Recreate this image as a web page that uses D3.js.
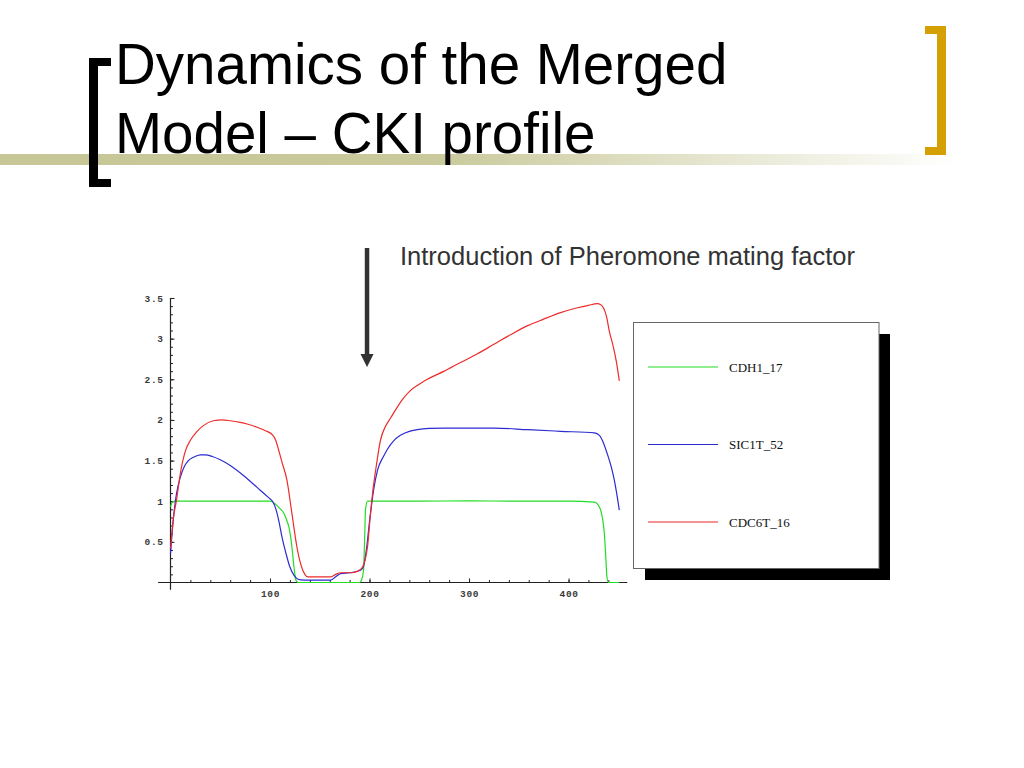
<!DOCTYPE html>
<html>
<head>
<meta charset="utf-8">
<title>Dynamics of the Merged Model – CKI profile</title>
<script src="https://d3js.org/d3.v7.min.js"></script>
<style>
  body { margin: 0; background: #fff; }
</style>
</head>
<body>
<div id="chart"></div>
<script>
// values (time, concentration)
let cdh1Time = [0, 2, 5, 50, 100, 105, 110, 114, 117, 119, 122, 124, 126, 128, 150, 190, 192, 194, 195, 196, 198, 200, 250, 300, 350, 400, 426, 431, 434, 436, 437.5, 438.5, 440, 451];
let cdh1Vals = [0.93, 0.99, 1.0, 1.0, 1.0, 0.97, 0.91, 0.85, 0.76, 0.68, 0.44, 0.2, 0.03, 0.0, 0.0, 0.0, 0.03, 0.15, 0.5, 0.9, 1.0, 1.0, 1.0, 1.005, 1.0, 1.0, 0.99, 0.93, 0.8, 0.6, 0.3, 0.08, 0.0, 0.0];

let sic1Time = [0, 3, 6, 10, 14, 18, 23, 30, 35, 42, 50, 60, 73, 87, 98, 103, 106, 109, 112, 116, 120, 124, 128, 134, 150, 161, 166, 171, 180, 191, 194, 197, 200, 204, 208, 214, 218, 224, 231, 240, 248, 260, 275, 300, 325, 359, 392, 426, 431, 435, 439, 443, 446, 449, 451];
let sic1Vals = [0.35, 0.8, 1.09, 1.3, 1.43, 1.5, 1.54, 1.57, 1.57, 1.55, 1.51, 1.44, 1.32, 1.17, 1.05, 0.99, 0.9, 0.75, 0.56, 0.36, 0.19, 0.09, 0.04, 0.03, 0.03, 0.03, 0.07, 0.11, 0.12, 0.15, 0.2, 0.42, 0.75, 1.13, 1.38, 1.55, 1.64, 1.74, 1.81, 1.86, 1.88, 1.895, 1.9, 1.9, 1.9, 1.88, 1.86, 1.84, 1.81, 1.72, 1.58, 1.42, 1.26, 1.05, 0.89];

let cdc6Time = [0, 3, 6, 10, 15, 20, 26, 33, 43, 52, 60, 70, 77, 87, 95, 103, 106, 108, 112, 117, 122, 127, 131, 135, 138, 145, 161, 166, 171, 182, 188, 193, 196, 198, 201, 203, 207, 211, 216, 221, 226, 233, 241, 250, 258, 275, 292, 308, 325, 342, 359, 375, 392, 409, 420, 429, 432, 435, 438, 441, 445, 448, 451];
let cdc6Vals = [0.42, 0.8, 1.01, 1.35, 1.62, 1.75, 1.85, 1.93, 1.99, 2.0, 1.99, 1.97, 1.95, 1.91, 1.87, 1.81, 1.74, 1.66, 1.48, 1.26, 0.85, 0.44, 0.22, 0.1, 0.07, 0.07, 0.07, 0.1, 0.12, 0.12, 0.14, 0.19, 0.3, 0.44, 0.85, 1.09, 1.45, 1.75, 1.92, 2.02, 2.12, 2.25, 2.36, 2.44, 2.5, 2.6, 2.71, 2.81, 2.93, 3.05, 3.16, 3.24, 3.32, 3.38, 3.41, 3.43, 3.42, 3.38, 3.28, 3.09, 2.9, 2.72, 2.48];

let seriesNames = ["CDH1_17", "SIC1T_52", "CDC6T_16"];
let xTicks = [100, 200, 300, 400];
let yTicks = [0.5, 1, 1.5, 2, 2.5, 3, 3.5];
let pheromoneTime = 197.5;
let titleLines = ["Dynamics of the Merged", "Model \u2013 CKI profile"];
let noteText = "Introduction of Pheromone mating factor";

let seriesColors = ["#22dd22", "#2b2bd2", "#ee2b2b"];

let svg = d3.select("#chart")
    .append("svg")
        .attr("width", 1024)
        .attr("height", 768);

// slide decoration: fading band and the two brackets
let grad = svg.append("defs").append("linearGradient")
    .attr("id", "band")
    .attr("x1", "0%").attr("x2", "100%");
grad.append("stop").attr("offset", "0%").attr("stop-color", "#c6c697");
grad.append("stop").attr("offset", "45%").attr("stop-color", "#c9c99b");
grad.append("stop").attr("offset", "100%").attr("stop-color", "#ffffff");

svg.append("rect")
    .attr("x", 0).attr("y", 154)
    .attr("width", 960).attr("height", 11)
    .attr("fill", "url(#band)");

svg.append("path")
    .attr("d", "M111,58 H89 V187 H111 V179 H98 V66 H111 Z")
    .attr("fill", "#000");

svg.append("path")
    .attr("d", "M925,26 H946 V155 H925 V147 H937 V34 H925 Z")
    .attr("fill", "#d4a004");

// title
svg.append("g").selectAll("text")
    .data(titleLines)
    .enter()
    .append("text")
        .attr("x", 115)
        .attr("y", (d, i) => 84 + i * 69)
        .attr("font-family", "Liberation Sans, Arial, sans-serif")
        .attr("font-size", "56.5px")
        .attr("fill", "#000")
        .text(d => d);

// scales
let x = d3.scaleLinear().domain([0, 450]).range([170.5, 618.3]);
let y = d3.scaleLinear().domain([0, 3.5]).range([582.5, 298]);

// axes, Mathematica style (ticks pointing into the plot)
let tickFont = "Liberation Mono, Courier New, monospace";

let xAxis = svg.append("g")
    .attr("transform", "translate(0," + y(0) + ")")
    .call(d3.axisBottom(x).tickValues(xTicks).tickSize(-4).tickPadding(8).tickFormat(d3.format("d")));
xAxis.select(".domain").remove();

let xMinor = svg.append("g")
    .attr("transform", "translate(0," + y(0) + ")")
    .call(d3.axisBottom(x).tickValues(d3.range(20, 451, 20)).tickSize(-2.5).tickFormat(""));
xMinor.select(".domain").remove();

let yAxis = svg.append("g")
    .attr("transform", "translate(" + x(0) + ",0)")
    .call(d3.axisLeft(y).tickValues(yTicks).tickSize(-4).tickPadding(7).tickFormat(d => d));
yAxis.select(".domain").remove();

let yMinor = svg.append("g")
    .attr("transform", "translate(" + x(0) + ",0)")
    .call(d3.axisLeft(y).tickValues(d3.range(1, 36).map(i => i / 10)).tickSize(-2.5).tickFormat(""));
yMinor.select(".domain").remove();

svg.selectAll(".tick line").attr("stroke", "#222");
svg.selectAll(".tick text")
    .attr("font-family", tickFont)
    .attr("font-size", "9.5px")
    .attr("font-weight", "bold")
    .attr("fill", "#3a3a3a")
    .attr("letter-spacing", "0.6px");

// axis lines run a little past the data range
svg.append("line")
    .attr("x1", x(-12.5)).attr("x2", x(459))
    .attr("y1", y(0)).attr("y2", y(0))
    .attr("stroke", "#222").attr("stroke-width", 1.2);
svg.append("line")
    .attr("x1", x(0)).attr("x2", x(0))
    .attr("y1", y(3.5)).attr("y2", y(-0.09))
    .attr("stroke", "#222").attr("stroke-width", 1.2);

// curves
let series = [
    d3.zip(cdh1Time, cdh1Vals),
    d3.zip(sic1Time, sic1Vals),
    d3.zip(cdc6Time, cdc6Vals)
];

let line = d3.line()
    .x(d => x(d[0]))
    .y(d => y(d[1]))
    .curve(d3.curveMonotoneX);

svg.append("g").selectAll("path")
    .data(series)
    .enter()
    .append("path")
        .attr("d", line)
        .attr("fill", "none")
        .attr("stroke", (d, i) => seriesColors[i])
        .attr("stroke-width", 1.2);

// legend with drop shadow
let legend = svg.append("g").attr("transform", "translate(633.5,322.5)");
legend.append("rect")
    .attr("x", 11.5).attr("y", 11.5)
    .attr("width", 245).attr("height", 246)
    .attr("fill", "#000");
legend.append("rect")
    .attr("width", 245.5).attr("height", 246)
    .attr("fill", "#fff")
    .attr("stroke", "#666");

let item = legend.selectAll(".item")
    .data(seriesNames)
    .enter()
    .append("g")
        .attr("class", "item")
        .attr("transform", (d, i) => "translate(0," + (44.5 + i * 77.5) + ")");
item.append("line")
    .attr("x1", 14.5).attr("x2", 84.5)
    .attr("stroke", (d, i) => seriesColors[i])
    .attr("stroke-width", 1.2);
item.append("text")
    .attr("x", 95.5)
    .attr("y", 4.5)
    .attr("font-family", "Liberation Serif, Times New Roman, serif")
    .attr("font-size", "13px")
    .attr("fill", "#111")
    .text(d => d);

// pheromone arrow and note
let ax = x(pheromoneTime);
svg.append("line")
    .attr("x1", ax).attr("x2", ax)
    .attr("y1", 248).attr("y2", 356)
    .attr("stroke", "#333")
    .attr("stroke-width", 4.5);
svg.append("path")
    .attr("d", "M" + (ax - 6.5) + ",354 L" + (ax + 6.5) + ",354 L" + ax + ",367 Z")
    .attr("fill", "#333");

svg.append("text")
    .attr("x", 400)
    .attr("y", 265)
    .attr("font-family", "Liberation Sans, Arial, sans-serif")
    .attr("font-size", "25.5px")
    .attr("fill", "#333")
    .text(noteText);
</script>
</body>
</html>
